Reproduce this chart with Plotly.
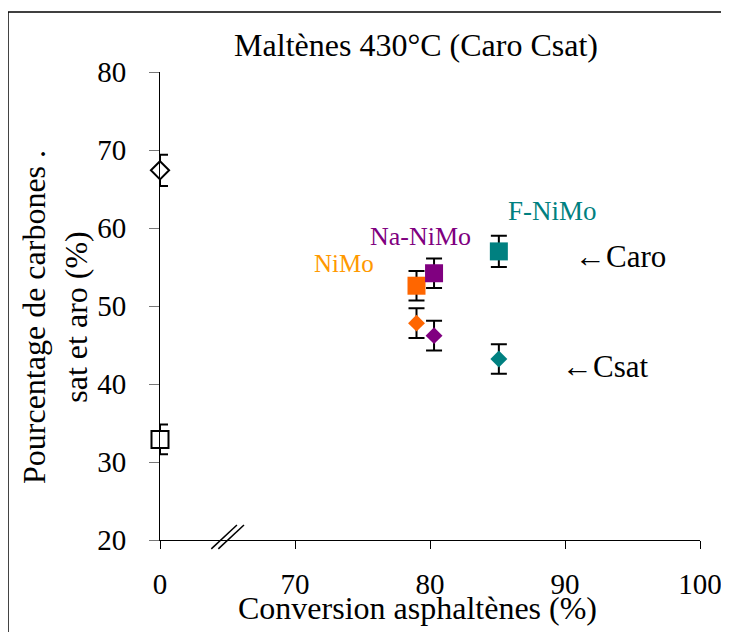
import plotly.graph_objects as go

# ---- data ----
samples = ["Référence", "NiMo", "Na-NiMo", "F-NiMo"]
conversion = [0, 79.0, 80.3, 85.1]          # conversion asphaltènes (%)
caro = [32.9, 52.6, 54.2, 57.0]              # % carbones aromatiques
caro_err = [1.9, 1.9, 1.9, 2.0]
csat = [67.4, 47.8, 46.2, 43.2]              # % carbones saturés
csat_err = [2.0, 1.9, 1.9, 1.9]
colors = ["white", "#FF6600", "#800080", "#008080"]
label_colors = ["black", "#FF9900", "#800080", "#008080"]
x_tickvals = [60, 70, 80, 90, 100]
x_ticktext = ["0", "70", "80", "90", "100"]
y_ticks = [20, 30, 40, 50, 60, 70, 80]

BREAK_POS = 60  # axis position used for 0 % conversion (broken axis)
xplot = [c if c > 0 else BREAK_POS for c in conversion]

FONT = "Liberation Serif, Times New Roman, serif"

fig = go.Figure()
for i, s in enumerate(samples):
    open_marker = colors[i] == "white"
    lw = 2 if open_marker else 0
    fig.add_trace(go.Scatter(
        x=[xplot[i]], y=[caro[i]], mode="markers", name=s + " Caro", cliponaxis=False,
        marker=dict(symbol="square", size=17 if open_marker else 18, color=colors[i],
                    line=dict(color="black", width=lw)),
        error_y=dict(type="data", array=[caro_err[i]], color="black", thickness=2, width=8),
        showlegend=False))
    fig.add_trace(go.Scatter(
        x=[xplot[i]], y=[csat[i]], mode="markers", name=s + " Csat", cliponaxis=False,
        marker=dict(symbol="diamond", size=14 if open_marker else 13, color=colors[i],
                    line=dict(color="black", width=lw)),
        error_y=dict(type="data", array=[csat_err[i]], color="black", thickness=2, width=8),
        showlegend=False))

# catalyst labels
label_pos = {"NiMo": (73.6, 55.5, 25), "Na-NiMo": (79.3, 58.9, 26), "F-NiMo": (89.1, 62.2, 27)}
for i, s in enumerate(samples):
    if s in label_pos:
        lx, ly, fs = label_pos[s]
        fig.add_annotation(x=lx, y=ly, text=s, showarrow=False,
                           font=dict(family=FONT, size=fs, color=label_colors[i]))
fig.add_annotation(x=94.1, y=56.4, text="←Caro", showarrow=False,
                   font=dict(family=FONT, size=31, color="black"))
fig.add_annotation(x=93.0, y=42.2, text="←Csat", showarrow=False,
                   font=dict(family=FONT, size=31, color="black"))

# axis titles (placed as annotations for tight positioning)
fig.add_annotation(xref="paper", yref="paper", x=0.476, y=-0.145, xanchor="center",
                   yanchor="middle", text="Conversion asphaltènes (%)", showarrow=False,
                   font=dict(family=FONT, size=32, color="black"))
fig.add_annotation(xref="paper", yref="paper", x=-0.194, y=0.477, xanchor="center",
                   yanchor="middle", textangle=-90, showarrow=False,
                   text="Pourcentage de carbones .<br>sat et aro (%)",
                   font=dict(family=FONT, size=32, color="black"))

# axis break marks
for dx in (0, 0.52):
    fig.add_shape(type="line", xref="x", yref="paper",
                  x0=63.8 + dx, x1=65.7 + dx, y0=-0.019, y1=0.032,
                  line=dict(color="black", width=1.5))

# outer frame (left and top edges)
fig.add_shape(type="line", xref="paper", yref="paper", x0=-0.2815, x1=-0.2815, y0=-0.2, y1=1.128,
              line=dict(color="black", width=1.5))
fig.add_shape(type="line", xref="paper", yref="paper", x0=-0.2815, x1=1.046, y0=1.128, y1=1.128,
              line=dict(color="black", width=1.5))

# the page body adds an 8 px offset; margins compensate so the plot sits at 160..700 x 72..540
fig.update_layout(
    width=729, height=632,
    margin=dict(l=152, r=37, t=64, b=100),
    paper_bgcolor="white", plot_bgcolor="white",
    font=dict(family=FONT, color="black"),
    title=dict(text="Maltènes 430°C (Caro Csat)", x=408 / 729, xref="container",
               xanchor="center", y=1 - 37 / 632, yanchor="middle",
               font=dict(family=FONT, size=32, color="black")),
    xaxis=dict(range=[60, 100], tickvals=x_tickvals, ticktext=x_ticktext, automargin=False,
               showgrid=False, zeroline=False, showline=True, linecolor="black", linewidth=1,
               ticks="outside", ticklen=8, tickcolor="black", tickwidth=1,
               tickfont=dict(family=FONT, size=29), ticklabelstandoff=10),
    yaxis=dict(range=[20, 80], tickvals=y_ticks, automargin=False,
               showgrid=False, zeroline=False, showline=True, linecolor="black", linewidth=1,
               ticks="outside", ticklen=10, tickcolor="#777", tickwidth=1,
               tickfont=dict(family=FONT, size=29), ticklabelstandoff=17),
)

fig.write_html("out.html")
